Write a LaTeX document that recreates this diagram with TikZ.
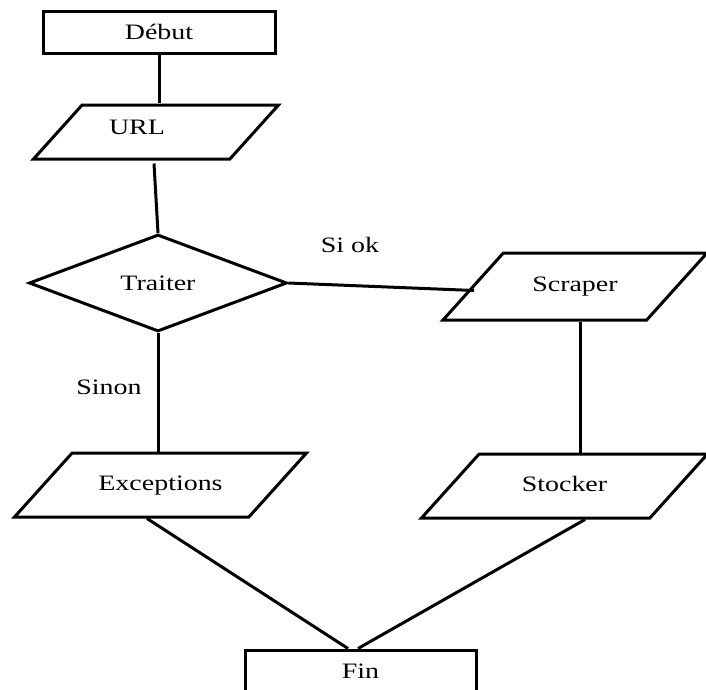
\documentclass[tikz,border=0pt]{standalone}
\usepackage{fontspec}
\setmainfont{Liberation Serif}[FakeStretch=1.27]
\usetikzlibrary{shapes.geometric}
\tikzset{
  base/.style={draw, line width=3pt, inner sep=0pt, font=\fontsize{22}{26}\selectfont},
  term/.style={base, rectangle, minimum width=232pt, minimum height=42pt},
  para/.style={base, trapezium, trapezium left angle=48, trapezium right angle=132,
    trapezium stretches body, text height=15pt, text depth=5pt},
  choice/.style={base, diamond, minimum width=258pt, minimum height=97pt},
  lbl/.style={font=\fontsize{22}{26}\selectfont},
  link/.style={line width=3pt}
}
\begin{document}
\begin{tikzpicture}[x=1pt, y=-1pt]
  \useasboundingbox (0,0) rectangle (706,689);

  % Boxes
  \node[term] (debut) at (159,32) {Début};
  \node[para, inner ysep=17pt, minimum width=245pt,
    label={[lbl, xshift=-19pt, yshift=5pt]center:URL}] (url) at (156,132) {};
  \node[choice] (traiter) at (158,283) {Traiter};
  \node[para, inner ysep=23.5pt, minimum width=264pt] (scraper) at (575,286.5) {Scraper};
  \node[para, inner ysep=22pt, minimum width=292pt] (exceptions) at (160.5,485) {Exceptions};
  \node[para, inner ysep=22pt, minimum width=286pt] (stocker) at (564.5,486) {Stocker};
  \node[term, minimum width=231pt] (fin) at (360.5,671) {Fin};

  % Labels on the branches
  \node[lbl] (siok) at (350,245) {Si ok};
  \node[lbl] (sinon) at (109,387) {Sinon};

  % Links
  \draw[link] (debut.south) -- (debut.south |- url.north);
  \draw[link] ([xshift=-2pt, yshift=-3pt]url.south) -- (traiter.north);
  \draw[link] (traiter.east) -- ([xshift=3pt, yshift=-4pt]scraper.west);
  \draw[link] ([xshift=5.5pt]scraper.south) -- ([xshift=5.5pt]scraper.south |- stocker.north);
  \draw[link] (traiter.south) -- (traiter.south |- exceptions.north);
  \draw[link] ([xshift=-13.5pt]exceptions.south) -- ([xshift=-12.5pt]fin.north);
  \draw[link] ([xshift=20.5pt]stocker.south) -- ([xshift=-2.5pt]fin.north);
\end{tikzpicture}
\end{document}
